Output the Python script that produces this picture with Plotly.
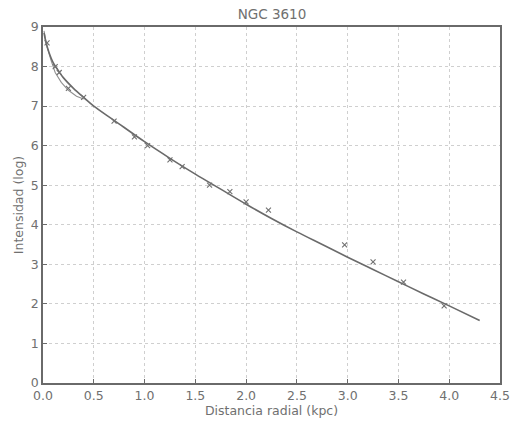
import plotly.graph_objects as go

# Fitted profile
fit_r = [0.01, 0.03, 0.06, 0.1, 0.15, 0.2, 0.3, 0.4, 0.5, 0.7, 1.0, 1.25, 1.5, 1.75,
         2.0, 2.25, 2.5, 2.75, 3.0, 3.25, 3.5, 3.75, 4.0, 4.3]
fit_i = [8.85, 8.6, 8.35, 8.1, 7.9, 7.72, 7.45, 7.22, 7.0, 6.64, 6.1, 5.68, 5.28, 4.9,
         4.52, 4.16, 3.82, 3.5, 3.18, 2.87, 2.56, 2.25, 1.95, 1.58]

# Inner observed profile near the centre
obs_r = [0.01, 0.04, 0.08, 0.12, 0.18, 0.25, 0.33, 0.4]
obs_i = [8.9, 8.5, 8.15, 7.85, 7.6, 7.4, 7.25, 7.18]

# Data points (x markers)
pts_r = [0.04, 0.12, 0.16, 0.25, 0.4, 0.7, 0.9, 1.03, 1.25, 1.37, 1.64, 1.84, 2.0, 2.22,
         2.97, 3.25, 3.55, 3.95]
pts_i = [8.6, 8.0, 7.85, 7.45, 7.22, 6.62, 6.22, 6.0, 5.64, 5.47, 5.0, 4.84, 4.58, 4.37,
         3.49, 3.06, 2.55, 1.95]

x_ticks = [0.0, 0.5, 1.0, 1.5, 2.0, 2.5, 3.0, 3.5, 4.0, 4.5]
y_ticks = [0, 1, 2, 3, 4, 5, 6, 7, 8, 9]

FONT = "DejaVu Sans"
TXT = "#707070"

fig = go.Figure()
fig.add_trace(go.Scatter(x=obs_r, y=obs_i, mode="lines",
                         line=dict(color="#909090", width=1.1), showlegend=False))
fig.add_trace(go.Scatter(x=fit_r, y=fit_i, mode="lines", line_shape="spline",
                         line=dict(color="#6a6a6a", width=1.6), showlegend=False))
fig.add_trace(go.Scatter(x=pts_r, y=pts_i, mode="markers",
                         marker=dict(symbol="x-thin", size=5,
                                     line=dict(color="#707070", width=1.1)),
                         showlegend=False))

axis_common = dict(
    showline=True, linecolor="#6a6a6a", linewidth=1.5, mirror=True,
    ticks="inside", ticklen=4, tickcolor="#6a6a6a",
    showgrid=True, gridcolor="#cfcfcf", griddash="dot", gridwidth=1,
    zeroline=False, automargin=False,
    tickfont=dict(family=FONT, size=12.5, color=TXT),
)

fig.update_layout(
    width=519, height=424,
    margin=dict(l=43, r=19, t=27, b=41),
    paper_bgcolor="white", plot_bgcolor="white",
    title=dict(text="NGC 3610", x=0.524, xanchor="center", y=0.967, yanchor="middle",
               font=dict(family=FONT, size=13.5, color=TXT)),
    xaxis=dict(range=[0, 4.5], tickvals=x_ticks, ticktext=[f"{v:.1f}" for v in x_ticks],
               title=dict(text="Distancia radial (kpc)", standoff=0,
                          font=dict(family=FONT, size=12.5, color=TXT)),
               **axis_common),
    yaxis=dict(range=[0, 9], tickvals=y_ticks, ticktext=[str(v) for v in y_ticks],
               title=dict(text="Intensidad (log)", standoff=4,
                          font=dict(family=FONT, size=12.5, color=TXT)),
               **axis_common),
)

fig.write_html("out.html", config={"displayModeBar": False},
               post_script="document.body.style.margin='0';document.body.style.overflow='hidden';")
